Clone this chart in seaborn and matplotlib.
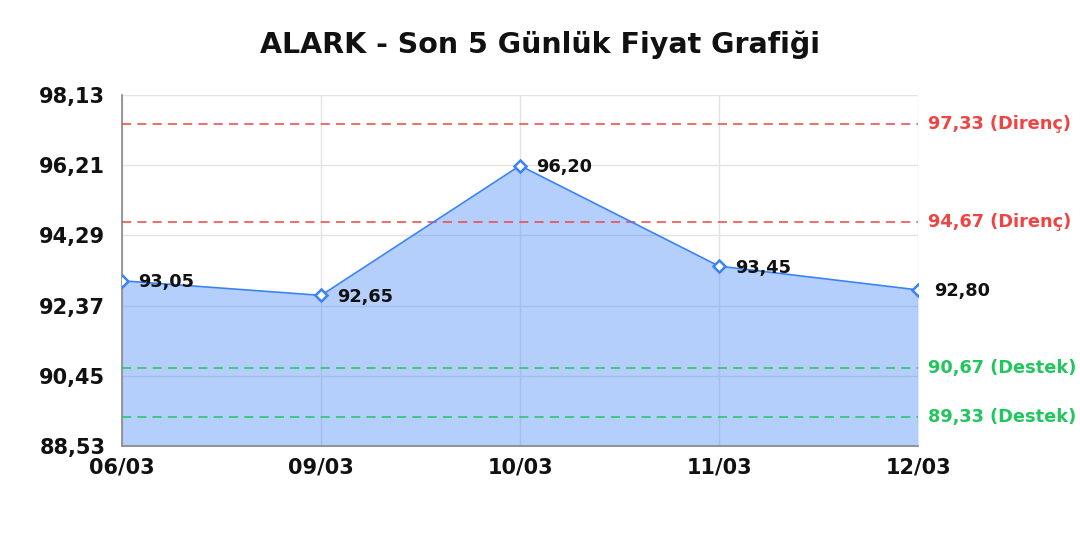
import matplotlib
matplotlib.use("Agg")
import matplotlib.pyplot as plt
import pandas as pd
import seaborn as sns

DATES = ["06/03", "09/03", "10/03", "11/03", "12/03"]
PRICES = [93.05, 92.65, 96.20, 93.45, 92.80]
RESISTANCE = [97.33, 94.67]
SUPPORT = [90.67, 89.33]
Y_TICKS = [88.53, 90.45, 92.37, 94.29, 96.21, 98.13]
TITLE = "ALARK - Son 5 Günlük Fiyat Grafiği"

LINE_COLOR = "#3b82f6"
RED = "#ef4444"
GREEN = "#22c55e"


def fmt(v: float) -> str:
    return f"{v:.2f}".replace(".", ",")


def main() -> None:
    sns.set_theme(style="white")
    plt.rcParams["font.family"] = ["DejaVu Sans"]

    df = pd.DataFrame({"x": range(len(DATES)), "price": PRICES})

    fig = plt.figure(figsize=(10.8, 5.4), dpi=100)
    ax = fig.add_axes([0.113, 0.174, 0.737, 0.650])

    ax.fill_between(df["x"], PRICES, Y_TICKS[0], color=LINE_COLOR, alpha=0.38,
                    linewidth=0, zorder=1)
    sns.lineplot(data=df, x="x", y="price", ax=ax, color=LINE_COLOR, linewidth=1.2,
                 marker="D", markersize=6.5, markerfacecolor="white",
                 markeredgecolor=LINE_COLOR, markeredgewidth=1.8, zorder=4)

    for lvl in RESISTANCE:
        ax.axhline(lvl, color=RED, linestyle=(0, (6, 4)), linewidth=1.1, zorder=3)
        ax.text(1.013, lvl, f"{fmt(lvl)} (Direnç)", transform=ax.get_yaxis_transform(),
                color=RED, fontsize=12.8, fontweight="bold", va="center", ha="left")
    for lvl in SUPPORT:
        ax.axhline(lvl, color=GREEN, linestyle=(0, (6, 4)), linewidth=1.1, zorder=3)
        ax.text(1.013, lvl, f"{fmt(lvl)} (Destek)", transform=ax.get_yaxis_transform(),
                color=GREEN, fontsize=12.8, fontweight="bold", va="center", ha="left")

    for i, v in enumerate(PRICES):
        ax.annotate(fmt(v), (i, v), xytext=(11.5, -1), textcoords="offset points",
                    fontsize=12.8, fontweight="bold", color="#111111",
                    va="center", ha="left", zorder=5)

    ax.set_xlim(0, len(DATES) - 1)
    ax.set_ylim(Y_TICKS[0], Y_TICKS[-1])
    ax.set_xticks(range(len(DATES)))
    ax.set_xticklabels(DATES)
    ax.set_yticks(Y_TICKS)
    ax.set_yticklabels([fmt(t) for t in Y_TICKS])
    ax.tick_params(axis="both", labelsize=15, length=0)
    ax.tick_params(axis="y", pad=12)
    ax.tick_params(axis="x", pad=8)
    for lab in ax.get_xticklabels() + ax.get_yticklabels():
        lab.set_fontweight("bold")
        lab.set_color("#111111")
    ax.set_xlabel("")
    ax.set_ylabel("")

    ax.grid(True, color="#e3e3e3", linewidth=1, zorder=0)
    ax.set_axisbelow(True)
    for side in ["top", "right"]:
        ax.spines[side].set_visible(False)
    for side in ["left", "bottom"]:
        ax.spines[side].set_color("#888888")
        ax.spines[side].set_linewidth(1.2)

    fig.suptitle(TITLE, x=0.5, y=0.917, va="center", fontsize=20.5,
                 fontweight="bold", color="#111111")

    fig.savefig("out.png", dpi=100)
    plt.close(fig)


if __name__ == "__main__":
    main()
